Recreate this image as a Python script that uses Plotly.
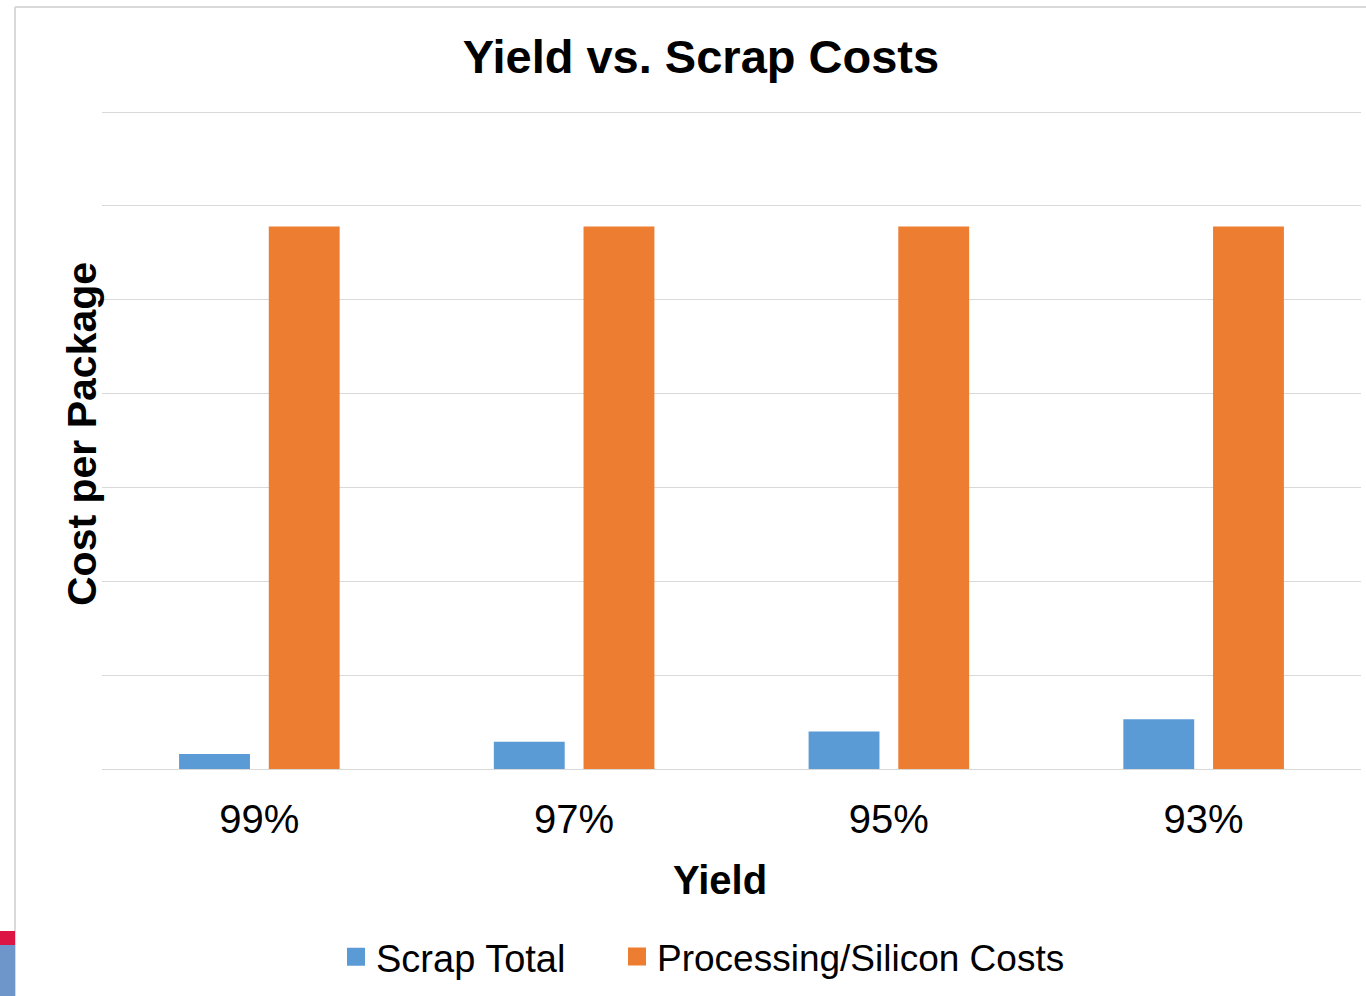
import plotly.graph_objects as go

# Yield levels and cost per package (relative units)
yields = ["99%", "97%", "95%", "93%"]
scrap_total = [0.16, 0.29, 0.40, 0.53]
processing_silicon = [5.78, 5.78, 5.78, 5.78]

BLUE = "#5B9BD5"
ORANGE = "#ED7D31"
FONT = "Liberation Sans, Arial, sans-serif"

W, H = 1366, 996
L, R, T, B = 102, 5, 108, 227
PW, PH = W - L - R, H - T - B
# axis top sits a little above the last gridline so that it is drawn
Y_MAX = 7 * PH / 657


def px_x(x):
    return (x - L) / PW


def px_y(y):
    return (H - B - y) / PH


fig = go.Figure()
fig.add_trace(go.Bar(x=yields, y=scrap_total, name="Scrap Total",
                     marker=dict(color=BLUE, line=dict(width=0)), showlegend=False))
fig.add_trace(go.Bar(x=yields, y=processing_silicon, name="Processing/Silicon Costs",
                     marker=dict(color=ORANGE, line=dict(width=0)), showlegend=False))

# legend entries with square swatches, one legend box each
for name, color, leg in [("Scrap Total", BLUE, "legend"),
                         ("Processing/Silicon Costs", ORANGE, "legend2")]:
    fig.add_trace(go.Scatter(x=[None], y=[None], mode="markers", name=name, legend=leg,
                             marker=dict(symbol="square", size=16, color=color,
                                         line=dict(color=color, width=2))))

legend_style = dict(orientation="h", xanchor="left", yanchor="middle", y=px_y(957),
                    bgcolor="rgba(0,0,0,0)")

fig.update_layout(
    width=W, height=H,
    margin=dict(l=L, r=R, t=T, b=B, autoexpand=False),
    paper_bgcolor="white", plot_bgcolor="white",
    barmode="group", bargap=0.43, bargroupgap=0.21,
    font=dict(family=FONT, color="#000000"),
    title=dict(text="<b>Yield vs. Scrap Costs</b>", font=dict(size=47, family=FONT),
               x=701 / W, xref="container", xanchor="center",
               y=1 - 57 / H, yref="container", yanchor="middle"),
    legend=dict(x=px_x(336), font=dict(size=38, family=FONT), **legend_style),
    legend2=dict(x=px_x(617), font=dict(size=37, family=FONT), **legend_style),
    xaxis=dict(showgrid=False, showline=False, ticks="", tickfont=dict(size=40, family=FONT),
               ticklabelstandoff=23),
    yaxis=dict(range=[0, Y_MAX], tick0=0, dtick=1, showticklabels=False, showgrid=True,
               gridcolor="#D9D9D9", gridwidth=1, zeroline=True, zerolinecolor="#D9D9D9",
               zerolinewidth=1, showline=False),
    annotations=[
        dict(text="<b>Yield</b>", xref="paper", yref="paper",
             x=px_x(720), y=px_y(880), xanchor="center", yanchor="middle",
             showarrow=False, font=dict(size=40, family=FONT)),
        dict(text="<b>Cost per Package</b>", xref="paper", yref="paper", textangle=-90,
             x=px_x(82), y=px_y(434), xanchor="center", yanchor="middle",
             showarrow=False, font=dict(size=41, family=FONT)),
    ],
    shapes=[
        # outer frame (top and left edges)
        dict(type="line", xref="paper", yref="paper", x0=px_x(15), x1=px_x(W),
             y0=px_y(7), y1=px_y(7), line=dict(color="#D9D9D9", width=2)),
        dict(type="line", xref="paper", yref="paper", x0=px_x(15), x1=px_x(15),
             y0=px_y(7), y1=px_y(H), line=dict(color="#D9D9D9", width=2)),
        # corner accent blocks
        dict(type="rect", xref="paper", yref="paper", x0=px_x(0), x1=px_x(15),
             y0=px_y(931), y1=px_y(945), fillcolor="#DC1543", line=dict(width=0)),
        dict(type="rect", xref="paper", yref="paper", x0=px_x(0), x1=px_x(15),
             y0=px_y(945), y1=px_y(H), fillcolor="#6F96CA", line=dict(width=0)),
    ],
)

fig.write_html("out.html")
